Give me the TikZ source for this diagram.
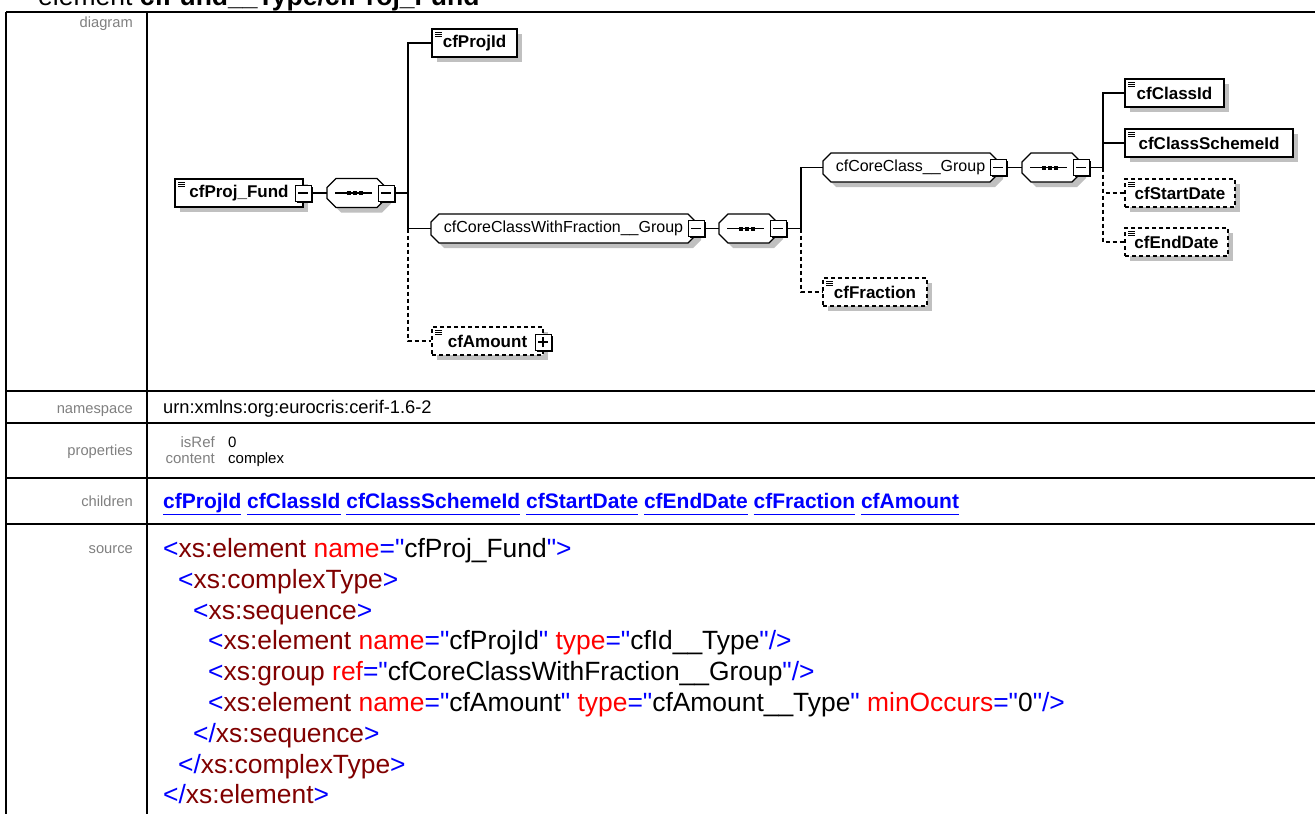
\documentclass[tikz,border=0pt]{standalone}
\usepackage{fontspec}
\setmainfont{Liberation Sans}
\newfontfamily\plainf{Liberation Sans}
\usetikzlibrary{shadows}
\definecolor{lbl}{RGB}{128,128,128}
\definecolor{shd}{RGB}{192,192,192}
\definecolor{mtag}{RGB}{0,0,255}
\definecolor{mel}{RGB}{128,0,0}
\definecolor{mattr}{RGB}{255,0,0}
\definecolor{lnk}{RGB}{0,0,255}
\newcommand{\fs}[1]{\fontsize{#1}{#1}\selectfont}
\newcommand{\tg}[1]{\textcolor{mtag}{#1}}
\newcommand{\el}[1]{\textcolor{mel}{#1}}
\newcommand{\at}[1]{\textcolor{mattr}{#1}}
\newcommand{\lk}[1]{\underline{\vphantom{j}#1}}
\newcommand{\octpath}[5]{({#1-(#3)/2+#5},{#2-(#4)/2}) -- ({#1+(#3)/2-#5},{#2-(#4)/2}) -- ({#1+(#3)/2},{#2-(#4)/2+#5}) -- ({#1+(#3)/2},{#2+(#4)/2-#5}) -- ({#1+(#3)/2-#5},{#2+(#4)/2}) -- ({#1-(#3)/2+#5},{#2+(#4)/2}) -- ({#1-(#3)/2},{#2+(#4)/2-#5}) -- ({#1-(#3)/2},{#2-(#4)/2+#5}) -- cycle}
\newcommand{\grp}[6]{%
  \fill[shd] \octpath{#2+5}{#3+5}{#4}{#5}{8};
  \draw[sline, fill=white] \octpath{#2}{#3}{#4}{#5}{8};
  \node[grpnode, minimum width=#4, minimum height=#5] (#1) at (#2,#3) {#6};
  \node[tog] (#1m) at ({#2+(#4)/2},#3) {};
}
\newcommand{\seqc}[3]{%
  \fill[shd] \octpath{#2+5}{#3+5}{59}{29}{9};
  \draw[sline, fill=white] \octpath{#2}{#3}{59}{29}{9};
  \node[seqnode] (#1) at (#2,#3) {};
  \draw[line width=1.2pt] ({#2-21.5},#3) -- ({#2+15.5},#3);
  \foreach \d in {-7.5,-1.5,4.5} \fill ({#2+\d-2},{#3-2}) rectangle +(4,4);
  \node[tog] (#1m) at ({#2+29.5},#3) {};
}
\tikzset{
  sline/.style={line width=1.2pt},
  conn/.style={line width=1.2pt},
  dconn/.style={line width=1.2pt, dash pattern=on 4pt off 3pt},
  tbl/.style={line width=1.6pt},
  elem/.style={draw, line width=1.2pt, fill=white, minimum height=28, inner sep=0,
    font=\fs{17}\bfseries,
    general shadow={fill=shd, shadow xshift=5pt, shadow yshift=-5pt},
    path picture={\foreach \k in {0,1,2} \draw[solid, line width=0.8pt] ([shift={(3,{3+2.3*\k})}]path picture bounding box.north west) -- ++(7,0);}},
  optelem/.style={elem, dash pattern=on 4pt off 3pt},
  grpnode/.style={inner sep=0, font=\fs{16}},
  seqnode/.style={inner sep=0, minimum width=59, minimum height=29},
  tog/.style={draw, line width=1pt, solid, fill=white, minimum size=16, inner sep=0,
    general shadow={fill=black, shadow xshift=1.8pt, shadow yshift=-1.8pt},
    path picture={\draw[solid, line width=1.2pt] ([xshift=-5pt]path picture bounding box.center) -- ([xshift=5pt]path picture bounding box.center);}},
  togp/.style={tog, path picture={\draw[solid, line width=1.2pt] ([xshift=-5pt]path picture bounding box.center) -- ([xshift=5pt]path picture bounding box.center) ([yshift=-5pt]path picture bounding box.center) -- ([yshift=5pt]path picture bounding box.center);}},
  lblt/.style={text=lbl, font=\fs{14.7}, inner sep=0, anchor=base east},
  valt/.style={inner sep=0, anchor=base west},
  srct/.style={inner sep=0, anchor=base west, font=\plainf\fs{26.4}}
}
\begin{document}
\begin{tikzpicture}[x=1pt, y=-1pt]
\useasboundingbox (0,0) rectangle (1315,814);
\fill[white] (0,0) rectangle (1315,814);
% title (cut off at top)
\node[valt, font=\fs{26.5}] (title) at (38,5) {element \textbf{cfFund\_\_Type/cfProj\_Fund}};
% table
\draw[tbl] (6,12) -- (1316,12);
\draw[tbl] (6,12) -- (6,815);
\draw[tbl] (147,12) -- (147,815);
\foreach \yy in {391,423,478,524} \draw[tbl] (6,\yy) -- (1316,\yy);
% labels
\node[lblt] (ldiag) at (133,27) {diagram};
\node[lblt] (lns) at (133,413) {namespace};
\node[lblt] (lprop) at (133,455) {properties};
\node[lblt] (lch) at (133,506) {children};
\node[lblt] (lsrc) at (133,553) {source};
% values
\node[valt, font=\fs{18.3}] (ns) at (163,413) {urn:xmlns:org:eurocris:cerif-1.6-2};
\node[lblt, font=\fs{15}] (pk1) at (215,447) {isRef};
\node[valt, font=\fs{15}] (pv1) at (228,447) {0};
\node[lblt, font=\fs{15}] (pk2) at (215,463) {content};
\node[valt, font=\fs{15}] (pv2) at (228,463) {complex};
\node[valt, font=\fs{21}\bfseries, text=lnk] (ch) at (163,508) {\lk{cfProjId} \lk{cfClassId} \lk{cfClassSchemeId} \lk{cfStartDate} \lk{cfEndDate} \lk{cfFraction} \lk{cfAmount}};
% source
\node[srct] (s1) at (163,557.5) {\tg{<}\el{xs:element} \at{name}\tg{="}cfProj\_Fund\tg{">}};
\node[srct] (s2) at (178,588.3) {\tg{<}\el{xs:complexType}\tg{>}};
\node[srct] (s3) at (193,619.1) {\tg{<}\el{xs:sequence}\tg{>}};
\node[srct] (s4) at (208,649.9) {\tg{<}\el{xs:element} \at{name}\tg{="}cfProjId\tg{"} \at{type}\tg{="}cfId\_\_Type\tg{"/>}};
\node[srct] (s5) at (208,680.7) {\tg{<}\el{xs:group} \at{ref}\tg{="}cfCoreClassWithFraction\_\_Group\tg{"/>}};
\node[srct] (s6) at (208,711.5) {\tg{<}\el{xs:element} \at{name}\tg{="}cfAmount\tg{"} \at{type}\tg{="}cfAmount\_\_Type\tg{"} \at{minOccurs}\tg{="}0\tg{"/>}};
\node[srct] (s7) at (193,742.3) {\tg{</}\el{xs:sequence}\tg{>}};
\node[srct] (s8) at (178,773.1) {\tg{</}\el{xs:complexType}\tg{>}};
\node[srct] (s9) at (163,803.9) {\tg{</}\el{xs:element}\tg{>}};
% diagram
\node[elem, minimum width=128] (pf) at (239,193) {cfProj\_Fund};
\node[tog] (pfm) at (303,193) {};
\seqc{seq1}{356.5}{193}
\node[elem, minimum width=85] (pid) at (474.5,43) {cfProjId};
\grp{g1}{563.5}{228.5}{265}{29}{cfCoreClassWithFraction\_\_Group}
\seqc{seq2}{748.5}{228.5}
\node[optelem, minimum width=111] (amt) at (487.5,341) {cfAmount};
\node[togp] (amtm) at (543,342) {};
\grp{g2}{910.5}{167.5}{175}{29}{cfCoreClass\_\_Group}
\seqc{seq3}{1051.5}{167.5}
\node[optelem, minimum width=104] (frac) at (875,292) {cfFraction};
\node[elem, minimum width=99] (cid) at (1174.5,93) {cfClassId};
\node[elem, minimum width=168] (csid) at (1209,143) {cfClassSchemeId};
\node[optelem, minimum width=110] (sd) at (1180,193) {cfStartDate};
\node[optelem, minimum width=103] (ed) at (1176.5,242) {cfEndDate};
% junctions
\coordinate (j1) at (408,193);
\coordinate (j2) at (801,228.5);
\coordinate (j3) at (1103,167.5);
% connectors
\draw[conn] (pfm.east) -- (seq1.west);
\draw[conn] (seq1m.east) -- (j1);
\draw[conn] (j1) |- (pid.west);
\draw[conn] (j1) |- (g1.west);
\draw[dconn] (g1.west -| j1) |- (amt.west);
\draw[conn] (g1m.east) -- (seq2.west);
\draw[conn] (seq2m.east) -- (j2);
\draw[conn] (j2) |- (g2.west);
\draw[dconn] (j2) |- (frac.west);
\draw[conn] (g2m.east) -- (seq3.west);
\draw[conn] (seq3m.east) -- (j3);
\draw[conn] (j3) |- (cid.west);
\draw[conn] (j3) |- (csid.west);
\draw[dconn] (j3) |- (sd.west);
\draw[dconn] (j3) |- (ed.west);
\end{tikzpicture}
\end{document}
